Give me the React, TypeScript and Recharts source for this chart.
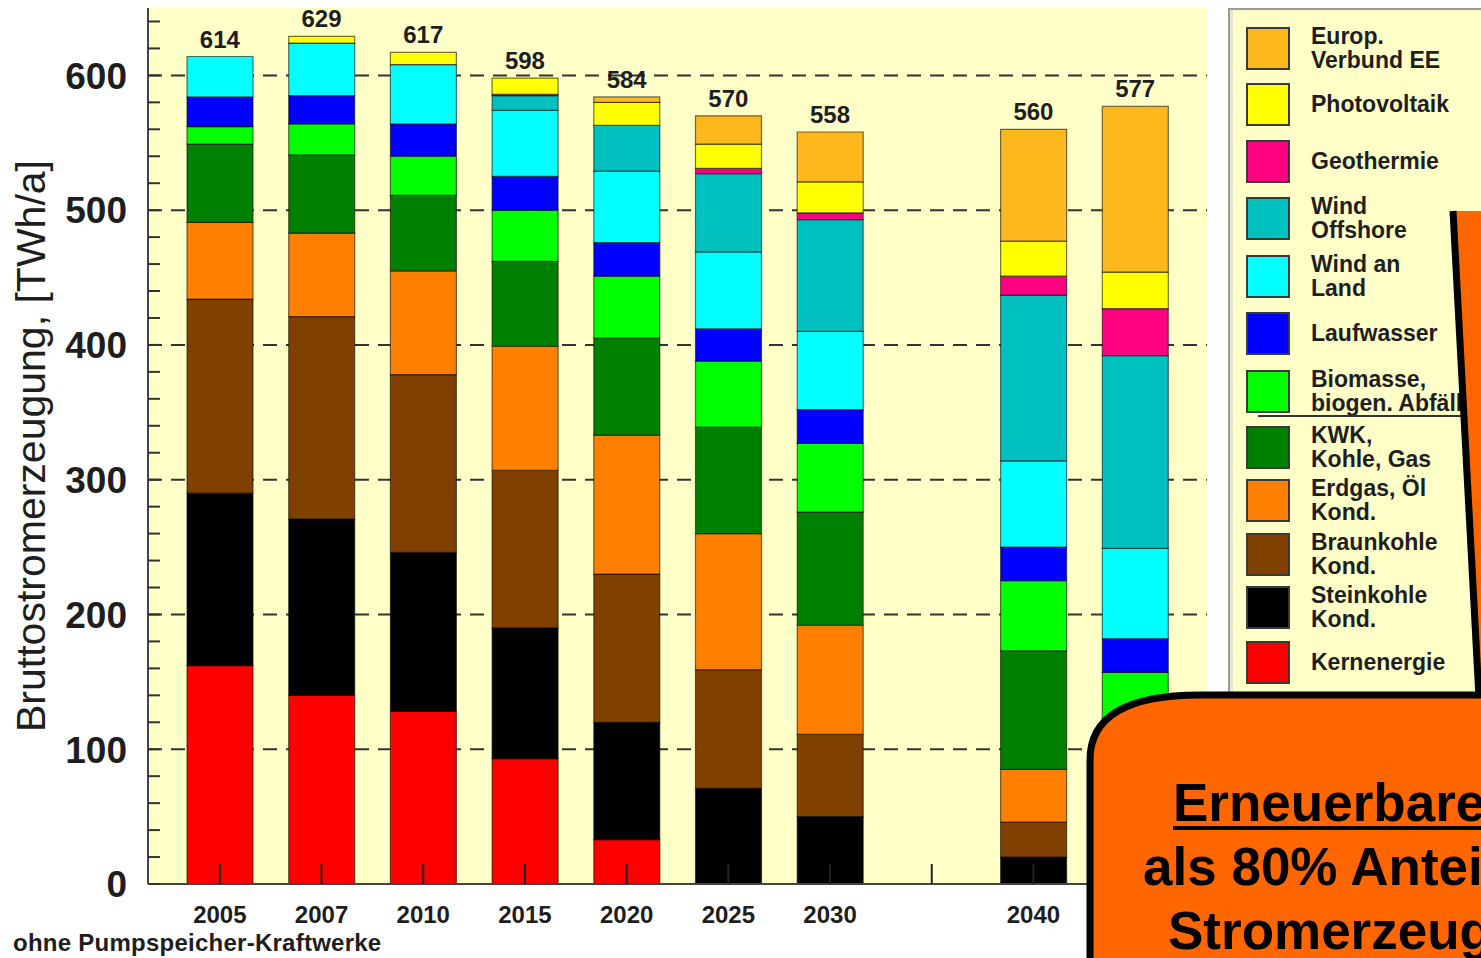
import React from "react";
import { ComposedChart, Bar, Line, XAxis, YAxis, CartesianGrid, LabelList, Label } from "recharts";

const FONT = "'Liberation Sans', Arial, Helvetica, sans-serif";

// categories ("" = empty slot between 2030 and 2040)
const YEARS = ["2005", "2007", "2010", "2015", "2020", "2025", "2030", "", "2040", "2050"];

// TWh/a, bottom to top
const KERN = [162, 140, 128, 93, 33, 0, 0, null, 0, 0];
const STEIN = [128, 131, 118, 97, 87, 71, 50, null, 20, 5];
const BRAUN = [144, 150, 132, 117, 110, 88, 61, null, 26, 0];
const ERDGAS = [57, 62, 77, 92, 103, 101, 81, null, 39, 12];
const KWK = [58, 58, 56, 63, 72, 79, 84, null, 88, 85];
const BIO = [13, 23, 29, 38, 46, 49, 51, null, 52, 55];
const LAUF = [22, 21, 24, 25, 25, 24, 25, null, 25, 25];
const WIND_LAND = [30, 39, 44, 49, 53, 57, 58, null, 64, 67];
const WIND_OFF = [0, 0, 0, 11, 34, 58, 83, null, 123, 143];
const GEO = [0, 0, 0, 1, 0, 4, 5, null, 14, 35];
const PV = [0, 5, 9, 12, 17, 18, 23, null, 26, 27];
const EUROP = [0, 0, 0, 0, 4, 21, 37, null, 83, 123];
const TOTALS = [614, 629, 617, 598, 584, 570, 558, null, 560, 577];

const Y_TICKS = [0, 20, 40, 60, 80, 100, 120, 140, 160, 180, 200, 220, 240, 260, 280, 300, 320, 340, 360, 380, 400, 420, 440, 460, 480, 500, 520, 540, 560, 580, 600, 620, 640];
const GRID_VALUES = [100, 200, 300, 400, 500, 600];

const SERIES = [
  { key: "kern", name: "Kernenergie", color: "#FF0000", values: KERN },
  { key: "stein", name: "Steinkohle Kond.", color: "#000000", values: STEIN },
  { key: "braun", name: "Braunkohle Kond.", color: "#804000", values: BRAUN },
  { key: "erdgas", name: "Erdgas, Öl Kond.", color: "#FF8000", values: ERDGAS },
  { key: "kwk", name: "KWK, Kohle, Gas", color: "#008000", values: KWK },
  { key: "bio", name: "Biomasse, biogen. Abfälle", color: "#00FF00", values: BIO },
  { key: "lauf", name: "Laufwasser", color: "#0000FF", values: LAUF },
  { key: "land", name: "Wind an Land", color: "#00FFFF", values: WIND_LAND },
  { key: "off", name: "Wind Offshore", color: "#00C0C0", values: WIND_OFF },
  { key: "geo", name: "Geothermie", color: "#FF0080", values: GEO },
  { key: "pv", name: "Photovoltaik", color: "#FFFF00", values: PV },
  { key: "europ", name: "Europ. Verbund EE", color: "#FDB81E", values: EUROP },
];

// legend (top to bottom) with its line breaks
const LEGEND = [
  { key: "europ", lines: ["Europ.", "Verbund EE"] },
  { key: "pv", lines: ["Photovoltaik"] },
  { key: "geo", lines: ["Geothermie"] },
  { key: "off", lines: ["Wind", "Offshore"] },
  { key: "land", lines: ["Wind an", "Land"] },
  { key: "lauf", lines: ["Laufwasser"] },
  { key: "bio", lines: ["Biomasse,", "biogen. Abfälle"] },
  { key: "kwk", lines: ["KWK,", "Kohle, Gas"] },
  { key: "erdgas", lines: ["Erdgas, Öl", "Kond."] },
  { key: "braun", lines: ["Braunkohle", "Kond."] },
  { key: "stein", lines: ["Steinkohle", "Kond."] },
  { key: "kern", lines: ["Kernenergie"] },
];

const data = YEARS.map((year, i) => {
  const row: any = { year, total: TOTALS[i] };
  SERIES.forEach((s) => {
    row[s.key] = s.values[i];
  });
  return row;
});

const YTick = (props: any) => {
  const { x, y, payload } = props;
  const v = payload.value;
  return (
    <g>
      <line x1={x} x2={x + 12} y1={y} y2={y} stroke="#333" strokeWidth={2} />
      {v % 100 === 0 && (
        <text x={x - 21} y={y} dy="0.36em" textAnchor="end" fontSize={37} fontWeight="bold" fill="#1e1e1e" fontFamily={FONT}>
          {v}
        </text>
      )}
    </g>
  );
};

const XTick = (props: any) => {
  const { x, y, payload } = props;
  return (
    <g>
      <line x1={x} x2={x} y1={y} y2={y - 20} stroke="#222" strokeWidth={2} />
      {payload.value ? (
        <text x={x} y={y + 39} textAnchor="middle" fontSize={24} fontWeight="bold" fill="#1e1e1e" fontFamily={FONT}>
          {payload.value}
        </text>
      ) : null}
    </g>
  );
};

const TotalLabel = (p: any) => {
  const vb = p.viewBox || {};
  const x = vb.x ?? p.x;
  const y = vb.y ?? p.y;
  if (p.value == null || y == null || x == null) return null;
  return (
    <text x={x} y={y - 9} textAnchor="middle" fontSize={24} fontWeight="bold" fill="#1e1e1e" fontFamily={FONT}>
      {p.value}
    </text>
  );
};

const YTitle = (p: any) => {
  const vb = p.viewBox || { x: 0, y: 8, width: 148, height: 876 };
  const cx = 31;
  const cy = vb.y + vb.height / 2;
  return (
    <text
      x={cx}
      y={cy}
      dy="0.35em"
      textAnchor="middle"
      transform={`rotate(-90 ${cx} ${cy})`}
      fontSize={41}
      fill="#1e1e1e"
      fontFamily={FONT}
    >
      Bruttostromerzeugung, [TWh/a]
    </text>
  );
};

const colorOf = (k: string) => SERIES.find((s) => s.key === k)!.color;

export default function App() {
  const legendTops = [27, 83, 140, 197, 255, 312, 370, 426, 479, 533, 586, 641];
  return (
    <div
      style={{
        position: "fixed",
        left: 0,
        top: 0,
        width: 1481,
        height: 958,
        overflow: "hidden",
        background: "#ffffff",
        fontFamily: FONT,
      }}
    >
      <div style={{ position: "absolute", left: 0, top: 0 }}>
        <ComposedChart width={1481} height={958} data={data} margin={{ top: 8, right: 274, bottom: 0, left: 0 }} barSize={66}>
          <CartesianGrid
            vertical={false}
            horizontalValues={GRID_VALUES}
            stroke="#333"
            strokeWidth={2}
            strokeDasharray="14 9"
            fill="#FFFFC8"
            fillOpacity={1}
          />
          {SERIES.map((s) => (
            <Bar
              key={s.key}
              dataKey={s.key}
              name={s.name}
              stackId="a"
              fill={s.color}
              stroke="rgba(0,0,0,0.55)"
              strokeWidth={1.2}
              isAnimationActive={false}
            />
          ))}
          <Line dataKey="total" stroke="none" dot={false} activeDot={false} isAnimationActive={false} legendType="none">
            <LabelList dataKey="total" content={TotalLabel} />
          </Line>
          <XAxis
            dataKey="year"
            interval={0}
            padding={{ left: 21, right: 21 }}
            height={74}
            tickSize={0}
            tickMargin={0}
            tickLine={false}
            tick={XTick}
            axisLine={{ stroke: "#444", strokeWidth: 2 }}
          />
          <XAxis
            xAxisId="top"
            orientation="top"
            dataKey="year"
            height={0}
            tick={false}
            tickLine={false}
            axisLine={{ stroke: "#555", strokeWidth: 2 }}
          />
          <YAxis
            domain={[0, 650]}
            ticks={Y_TICKS}
            interval={0}
            width={148}
            tickSize={0}
            tickMargin={0}
            tickLine={false}
            tick={YTick}
            axisLine={{ stroke: "#444", strokeWidth: 2 }}
          >
            <Label content={YTitle} />
          </YAxis>
          <YAxis
            yAxisId="right"
            orientation="right"
            domain={[0, 650]}
            width={0}
            tick={false}
            tickLine={false}
            axisLine={{ stroke: "#555", strokeWidth: 2 }}
          />
        </ComposedChart>
      </div>

      {/* legend */}
      <div
        style={{
          position: "absolute",
          left: 1228,
          top: 8,
          width: 400,
          height: 900,
          background: "#FFFFC8",
          borderLeft: "2px solid #9a9a9a",
          borderTop: "2px solid #9a9a9a",
          boxShadow: "inset 3px 0 0 #e6e6d0",
        }}
      >
        {LEGEND.map((item, i) => (
          <div
            key={item.key}
            style={{
              position: "absolute",
              left: 16,
              top: legendTops[i] - 10,
              height: 42,
              display: "flex",
              alignItems: "center",
              whiteSpace: "nowrap",
            }}
          >
            <div
              style={{
                width: 40,
                height: 39,
                background: colorOf(item.key),
                border: "2px solid #3a3a3a",
                boxSizing: "content-box",
                marginRight: 21,
                flex: "none",
              }}
            />
            <div style={{ fontSize: 23, fontWeight: "bold", lineHeight: "24px", color: "#1e1e1e" }}>
              {item.lines.map((l, j) => (
                <div key={j}>{l}</div>
              ))}
            </div>
          </div>
        ))}
        <div style={{ position: "absolute", left: 28, top: 405, width: 400, height: 2, background: "#333" }} />
      </div>

      {/* footnote */}
      <div
        style={{
          position: "absolute",
          left: 13,
          top: 929,
          fontSize: 24,
          fontWeight: "bold",
          color: "#1e1e1e",
          whiteSpace: "nowrap",
          lineHeight: "28px",
          letterSpacing: "0.25px",
        }}
      >
        ohne Pumpspeicher-Kraftwerke
      </div>

      {/* callout */}
      <svg width={1481} height={958} style={{ position: "absolute", left: 0, top: 0, pointerEvents: "none" }}>
        <path
          d="M 1090 1100 L 1090 760 Q 1090 695 1200 695 L 1700 695 L 1700 1100 Z"
          fill="#FF6600"
          stroke="#000"
          strokeWidth={7}
        />
        <polygon points="1453,211 1482,720 1700,720 1700,211" fill="#FF6600" />
        <line x1={1453} y1={211} x2={1479} y2={698} stroke="#000" strokeWidth={7} />
        <text x={1173} y={821} fontSize={53} fontWeight="bold" fill="#000" fontFamily={FONT}>
          Erneuerbare
        </text>
        <rect x={1173} y={826} width={400} height={4} fill="#000" />
        <text x={1143} y={885} fontSize={53} fontWeight="bold" fill="#000" fontFamily={FONT}>
          als 80% Anteil
        </text>
        <text x={1168} y={949} fontSize={53} fontWeight="bold" fill="#000" fontFamily={FONT}>
          Stromerzeugung
        </text>
      </svg>
    </div>
  );
}
